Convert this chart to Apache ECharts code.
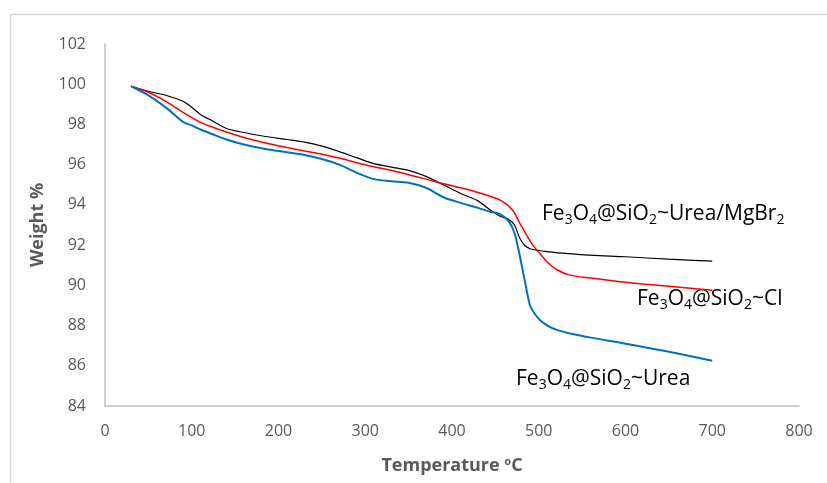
<!DOCTYPE html>
<html>
<head>
<meta charset="utf-8">
<script src="https://cdn.jsdelivr.net/npm/echarts@6/dist/echarts.min.js"></script>
<style>html,body{margin:0;padding:0;background:#fff}#c{width:827px;height:483px}</style>
</head>
<body>
<div id="c"></div>
<script>
const temps = [30, 50, 70, 90, 100, 110, 125, 140, 160, 185, 210, 230, 250, 270, 290, 310, 330, 350, 370, 390, 410, 430, 445, 455, 465, 472, 478, 484, 490, 496, 502, 510, 520, 535, 560, 600, 650, 700];
const mgbr2 = [99.9, 99.65, 99.45, 99.15, 98.85, 98.5, 98.15, 97.8, 97.6, 97.4, 97.25, 97.12, 96.92, 96.65, 96.35, 96.05, 95.88, 95.72, 95.42, 95.0, 94.57, 94.2, 93.72, 93.45, 93.28, 93.0, 92.35, 91.98, 91.82, 91.76, 91.72, 91.68, 91.63, 91.58, 91.5, 91.42, 91.3, 91.2];
const cl = [99.9, 99.6, 99.15, 98.6, 98.35, 98.1, 97.85, 97.62, 97.35, 97.08, 96.85, 96.68, 96.52, 96.33, 96.1, 95.9, 95.72, 95.5, 95.28, 95.05, 94.85, 94.62, 94.42, 94.25, 93.95, 93.6, 93.1, 92.65, 92.2, 91.85, 91.55, 91.15, 90.8, 90.52, 90.36, 90.15, 89.95, 89.75];
const urea = [99.9, 99.45, 98.85, 98.12, 97.95, 97.75, 97.5, 97.25, 97.0, 96.78, 96.62, 96.48, 96.28, 96.0, 95.6, 95.28, 95.18, 95.1, 94.85, 94.38, 94.1, 93.85, 93.65, 93.55, 93.2, 92.6, 91.5, 90.2, 89.0, 88.55, 88.25, 88.0, 87.8, 87.62, 87.4, 87.1, 86.7, 86.25];
const xTicks = [0, 800, 100];
const yTicks = [84, 102, 2];

const pair = arr => temps.map((t, i) => [t, arr[i]]);
const font = '"Open Sans", "Liberation Sans", sans-serif';
const richFor = (color) => ({
  n: { fontSize: 21, color: color, fontFamily: font, lineHeight: 28, verticalAlign: 'middle' },
  s: { fontSize: 14, color: color, fontFamily: font, lineHeight: 28, padding: [12, 0, 0, 0], verticalAlign: 'middle' }
});
const labelText = (tail, tailSub) =>
  '{n|Fe}{s|3}{n|O}{s|4}{n|@SiO}{s|2}{n|' + tail + '}' + (tailSub ? '{s|' + tailSub + '}' : '');

const chart = echarts.init(document.getElementById('c'));
chart.setOption({
  animation: false,
  backgroundColor: '#fff',
  grid: { left: 105, right: 28, top: 44, bottom: 77 },
  xAxis: {
    type: 'value', min: xTicks[0], max: xTicks[1], interval: xTicks[2],
    axisLine: { lineStyle: { color: '#bfbfbf', width: 1.5 } },
    axisTick: { show: false }, splitLine: { show: false },
    axisLabel: { color: '#595959', fontSize: 16, fontFamily: font, margin: 17 },
    name: 'Temperature {sup|o}C', nameLocation: 'middle', nameGap: 50,
    nameTextStyle: {
      color: '#595959', fontSize: 18, fontWeight: 'bold', fontFamily: font,
      rich: { sup: { fontSize: 11, fontWeight: 'bold', color: '#595959', fontFamily: font, padding: [0, 0, 9, 0] } }
    }
  },
  yAxis: {
    type: 'value', min: yTicks[0], max: yTicks[1], interval: yTicks[2],
    axisLine: { show: true, lineStyle: { color: '#bfbfbf', width: 1.5 } },
    axisTick: { show: false }, splitLine: { show: false },
    axisLabel: { color: '#595959', fontSize: 16, fontFamily: font, margin: 19 },
    name: 'Weight %', nameLocation: 'middle', nameGap: 58, nameRotate: 90,
    nameTextStyle: { color: '#595959', fontSize: 18, fontWeight: 'bold', fontFamily: font }
  },
  series: [
    { name: 'Fe3O4@SiO2~Urea/MgBr2', type: 'line', data: pair(mgbr2), smooth: 0.3, symbol: 'none',
      lineStyle: { color: '#000000', width: 1.2 } },
    { name: 'Fe3O4@SiO2~Cl', type: 'line', data: pair(cl), smooth: 0.3, symbol: 'none',
      lineStyle: { color: '#ff0000', width: 1.5 } },
    { name: 'Fe3O4@SiO2~Urea', type: 'line', data: pair(urea), smooth: 0.3, symbol: 'none',
      lineStyle: { color: '#0070c0', width: 2 } }
  ],
  graphic: [
    { type: 'rect', shape: { x: 10.5, y: 14.5, width: 840, height: 500 }, silent: true,
      style: { fill: 'none', stroke: '#d9d9d9', lineWidth: 1.5 } },
    { type: 'text', left: 542, top: 201, style: { text: labelText('~Urea/MgBr', '2'), rich: richFor('#000000') } },
    { type: 'text', left: 637, top: 286, style: { text: labelText('~Cl'), rich: richFor('#ff0000') } },
    { type: 'text', left: 516, top: 366, style: { text: labelText('~Urea'), rich: richFor('#0070c0') } }
  ]
});
</script>
</body>
</html>
